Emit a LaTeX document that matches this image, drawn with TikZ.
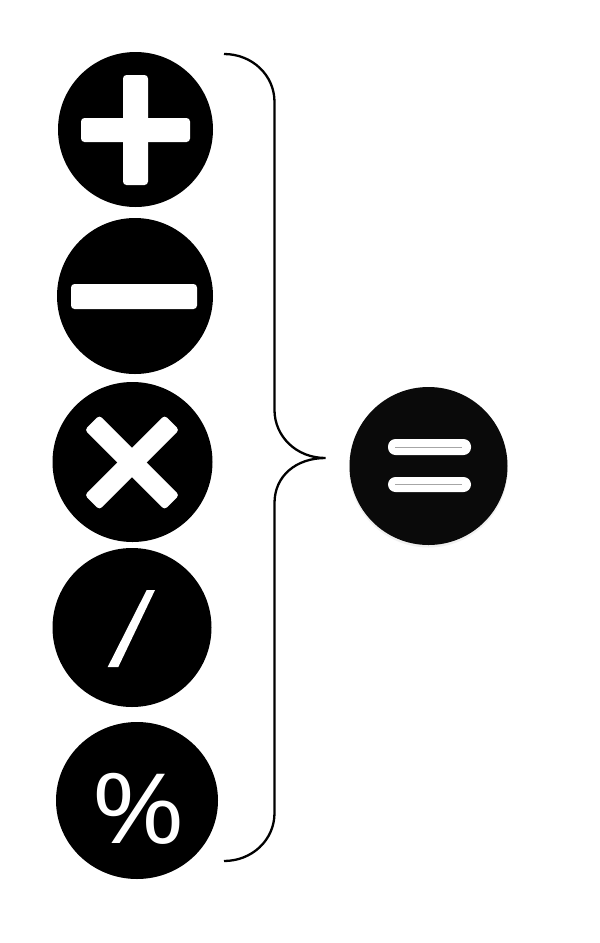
\documentclass[tikz,border=0pt]{standalone}
\usepackage{fontspec}
\usetikzlibrary{shapes.geometric}
\setmainfont{Open Sans}
\tikzset{
  disc/.style={circle,fill=black,draw=none,inner sep=0pt,minimum size=#1},
  glyph/.style={fill=white,draw=none,rounded corners=3.5pt},
  bracket/.style={draw=black,line width=2.3pt,line cap=butt,fill=none}
}
\begin{document}
\begin{tikzpicture}[x=1pt,y=-1pt]
\useasboundingbox (0,0) rectangle (600,943);
\fill[white] (0,0) rectangle (600,943);
% discs
\node[disc=155pt] (plus) at (135.5,129.5) {};
\node[disc=156pt] (minus) at (135,296) {};
\node[disc=160pt] (times) at (132.5,462) {};
\node[disc=159pt] (slash) at (132,627.5) {};
\node[ellipse,fill=black,inner sep=0pt,minimum width=162pt,minimum height=157pt] (percent) at (137,800.5) {};
\fill[black!6] (428.5,468) circle (79.5);
\node[disc=158pt,fill=black!96] (equals) at (428.5,466) {};
% plus
\fill[glyph] (123,75) rectangle (148,185);
\fill[glyph] (81,118) rectangle (190,142);
% minus
\fill[glyph] (71,284) rectangle (197,309);
% times
\begin{scope}[shift={(132,462.5)}]
\fill[glyph,rotate=45] (-56.5,-10.4) rectangle (56.5,10.4);
\fill[glyph,rotate=45] (-10.4,-56.5) rectangle (10.4,56.5);
\end{scope}
% slash
\fill[white] (146.7,590) -- (155,590) -- (118.3,667) -- (107.7,667) -- cycle;
% percent
\node[text=white,font=\fontsize{97pt}{97pt}\selectfont,inner sep=0pt,xscale=1.18] (pct) at (138.5,808.5) {\%};
% equals
\fill[white,rounded corners=7.5pt] (388,439) rectangle (471,455);
\fill[white,rounded corners=7.5pt] (388,477) rectangle (471,492);
\draw[black!35,line width=0.6pt] (395,447.5) -- (462,447.5);
\draw[black!35,line width=0.6pt] (395,484.5) -- (462,484.5);
% brace
\coordinate (b1) at (224,54);
\coordinate (b2) at (274.5,102);
\coordinate (b3) at (274.5,410);
\coordinate (tip) at (325.5,458);
\coordinate (b4) at (274.5,503);
\coordinate (b5) at (274.5,813);
\coordinate (b6) at (224,861);
\draw[bracket] (b1) .. controls (252,54) and (274.5,75) .. (b2) -- (b3)
  .. controls (274.5,436) and (296,458) .. (tip)
  .. controls (296,458) and (274.5,476) .. (b4) -- (b5)
  .. controls (274.5,840) and (252,861) .. (b6);
\end{tikzpicture}
\end{document}
